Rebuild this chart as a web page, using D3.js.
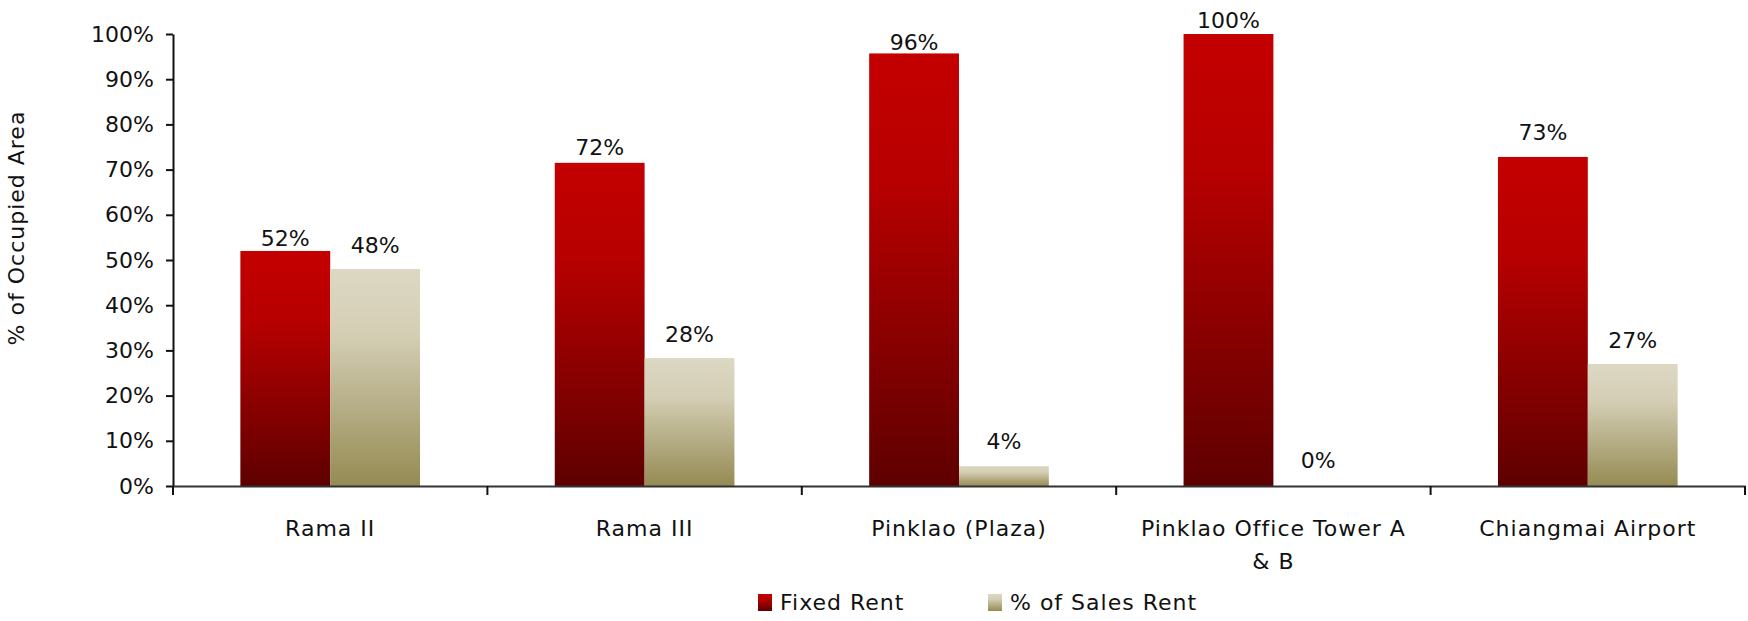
<!DOCTYPE html>
<html><head><meta charset="utf-8">
<script src="https://cdn.jsdelivr.net/npm/d3@7"></script>
<style>
html,body{margin:0;padding:0;background:#fff;}
svg{display:block;font-family:"DejaVu Sans",sans-serif;}
</style></head>
<body><svg id="chart" width="1748" height="621"></svg>
<script>
const categories = ["Rama II", "Rama III", "Pinklao (Plaza)", "Pinklao Office Tower A & B", "Chiangmai Airport"];
const seriesNames = ["Fixed Rent", "% of Sales Rent"];
const fixedRent = [0.52, 0.715, 0.957, 1.00, 0.728];
const salesRent = [0.48, 0.283, 0.044, 0.00, 0.270];
const labelsFixed = ["52%", "72%", "96%", "100%", "73%"];
const labelsSales = ["48%", "28%", "4%", "0%", "27%"];
const yTicks = [0, 0.1, 0.2, 0.3, 0.4, 0.5, 0.6, 0.7, 0.8, 0.9, 1.0];
const yTitle = "% of Occupied Area";

(function () {
const svg = d3.select("#chart");
const mLeft = 173, mRight = 1745, mTop = 34, mBottom = 486;
// label lift above bar top (px), as placed in the original
const liftFixed = [5, 8, 3, 6, 17];
const liftSales = [16, 16, 17, 18, 16];

const defs = svg.append("defs");
function grad(id, stops) {
  const g = defs.append("linearGradient").attr("id", id)
    .attr("x1", 0).attr("y1", 0).attr("x2", 0).attr("y2", 1);
  stops.forEach(s => g.append("stop").attr("offset", s[0]).attr("stop-color", s[1]));
}
grad("gFixed", [[0, "#C40000"], [0.3, "#B70000"], [1, "#5E0000"]]);
grad("gSales", [[0, "#DDD8C3"], [0.3, "#D4CEB5"], [1, "#958B53"]]);
const fills = ["url(#gFixed)", "url(#gSales)"];

const x0 = d3.scaleBand().domain(categories).range([mLeft, mRight]).padding(0);
const x1 = d3.scaleBand().domain(seriesNames).range([0, x0.bandwidth()]).paddingInner(0).paddingOuter(0.75);
const y = d3.scaleLinear().domain([0, 1]).range([mBottom, mTop]);

const data = categories.map((c, i) => ({
  cat: c,
  vals: [
    {s: seriesNames[0], v: fixedRent[i], lab: labelsFixed[i], k: 0, lift: liftFixed[i]},
    {s: seriesNames[1], v: salesRent[i], lab: labelsSales[i], k: 1, lift: liftSales[i]}
  ]
}));

const groups = svg.append("g").selectAll("g").data(data).join("g")
  .attr("transform", d => `translate(${x0(d.cat)},0)`);
groups.selectAll("rect").data(d => d.vals).join("rect")
  .attr("x", d => x1(d.s))
  .attr("y", d => y(d.v))
  .attr("width", x1.bandwidth())
  .attr("height", d => y(0) - y(d.v))
  .attr("fill", d => fills[d.k]);

groups.selectAll("text").data(d => d.vals).join("text")
  .attr("x", d => x1(d.s) + x1.bandwidth() / 2)
  .attr("y", d => y(d.v) - d.lift)
  .attr("text-anchor", "middle")
  .attr("font-size", 22)
  .attr("fill", "#111")
  .text(d => d.lab);

const yAxis = svg.append("g").attr("transform", `translate(${mLeft},0)`)
  .call(d3.axisLeft(y).tickValues(yTicks).tickFormat(d3.format(".0%")).tickSize(7).tickSizeOuter(0).tickPadding(12));
yAxis.select(".domain").attr("stroke", "#111").attr("stroke-width", 2);
yAxis.selectAll(".tick line").attr("stroke", "#111").attr("stroke-width", 2);
yAxis.selectAll(".tick text").attr("font-size", 22).attr("fill", "#111").attr("font-family", "DejaVu Sans, sans-serif");

const xAxis = svg.append("g").attr("transform", `translate(0,${mBottom})`)
  .call(d3.axisBottom(x0).tickSize(0).tickPadding(34));
xAxis.select(".domain").attr("stroke", "#333").attr("stroke-width", 2);
xAxis.selectAll(".tick text").attr("font-size", 22).attr("fill", "#111")
  .attr("font-family", "DejaVu Sans, sans-serif").attr("letter-spacing", "1px");
const bounds = categories.map(c => x0(c)).concat([x0.range()[1]]);
xAxis.selectAll("line.bound").data(bounds).join("line").attr("class", "bound")
  .attr("x1", d => d).attr("x2", d => d).attr("y1", 0).attr("y2", 9)
  .attr("stroke", "#111").attr("stroke-width", 2);

xAxis.selectAll(".tick text").each(function() {
  const t = d3.select(this);
  const words = t.text().split(/\s+/);
  const maxW = x0.bandwidth() * 0.9;
  const yPos = +t.attr("y");
  t.text(null);
  let line = [], lineNo = 0;
  let ts = t.append("tspan").attr("x", 0).attr("y", yPos).attr("dy", "0.71em");
  words.forEach(w => {
    line.push(w);
    ts.text(line.join(" "));
    if (ts.node().getComputedTextLength() > maxW && line.length > 1) {
      line.pop();
      ts.text(line.join(" "));
      line = [w];
      lineNo++;
      ts = t.append("tspan").attr("x", 0).attr("y", yPos).attr("dy", (0.71 + lineNo * 1.5) + "em").text(w);
    }
  });
});

svg.append("text")
  .attr("transform", `translate(24,${(mTop + mBottom) / 2 - 32}) rotate(-90)`)
  .attr("text-anchor", "middle")
  .attr("font-size", 22).attr("letter-spacing", "1px").attr("fill", "#111")
  .text(yTitle);

const legendX = [758, 988];
const leg = svg.append("g").selectAll("g").data(seriesNames).join("g")
  .attr("transform", (d, i) => `translate(${legendX[i]},${602})`);
leg.append("rect").attr("x", 0).attr("y", -8).attr("width", 14).attr("height", 17)
  .attr("fill", (d, i) => fills[i]);
leg.append("text").attr("x", 22).attr("y", 0).attr("dy", "0.36em")
  .attr("font-size", 22).attr("letter-spacing", "1px").attr("fill", "#111").text(d => d);
})();
</script>
</body></html>
